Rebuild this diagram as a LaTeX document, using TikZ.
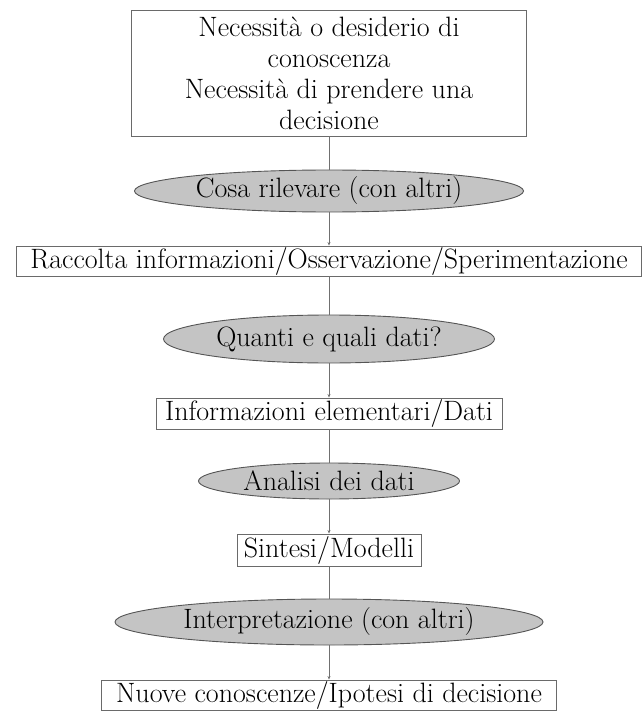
\documentclass[tikz,border=0pt]{standalone}
\usepackage{tikz}
\usetikzlibrary{shapes.geometric}
\usetikzlibrary{arrows.meta}

\definecolor{ovalfill}{HTML}{C4C4C4}
\definecolor{ovalline}{HTML}{555555}
\definecolor{boxline}{HTML}{6A6A6A}
\definecolor{linkline}{HTML}{707070}

\begin{document}
\begin{tikzpicture}[x=1pt,y=-1pt,>={Stealth[length=3.5pt,width=3pt]},
        stepbox/.style={draw=boxline,line width=0.9pt,fill=white,inner sep=0pt,align=center},
        stepoval/.style={ellipse,draw=ovalline,line width=0.9pt,fill=ovalfill,inner sep=0pt},
        link/.style={draw=linkline,line width=0.9pt}]
        \fontsize{28}{31}\selectfont
        % Frame
        \useasboundingbox (0,0) rectangle (642,711);
    
        % Boxes and ovals, top to bottom
        \node[stepbox,minimum width=395,minimum height=126] (need) at (329,73) {Necessità o desiderio di\\conoscenza\\Necessità di prendere una\\decisione}; % Start
        \node[stepoval,minimum width=389,minimum height=42] (cosa) at (329,191) {Cosa rilevare (con altri)};
        \node[stepbox,minimum width=625,minimum height=30] (raccolta) at (329,261) {Raccolta informazioni/Osservazione/Sperimentazione};
        \node[stepoval,minimum width=331,minimum height=48] (quanti) at (329,339) {Quanti e quali dati?};
        \node[stepbox,minimum width=346,minimum height=31] (dati) at (329,413.5) {Informazioni elementari/Dati};
        \node[stepoval,minimum width=261,minimum height=36] (analisi) at (329,481) {Analisi dei dati};
        \node[stepbox,minimum width=184,minimum height=32] (sintesi) at (329,550) {Sintesi/Modelli};
        \node[stepoval,minimum width=428,minimum height=46] (interp) at (329,622) {Interpretazione (con altri)};
        \node[stepbox,minimum width=455,minimum height=30] (nuove) at (329,695) {Nuove conoscenze/Ipotesi di decisione}; % End
    
        % Connectors (box to oval plain, oval to box with a small tip)
        \draw[link] (need) -- (cosa);
        \draw[link,->] (cosa) -- (raccolta);
        \draw[link] (raccolta) -- (quanti);
        \draw[link,->] (quanti) -- (dati);
        \draw[link] (dati) -- (analisi);
        \draw[link,->] (analisi) -- (sintesi);
        \draw[link] (sintesi) -- (interp);
        \draw[link,->] (interp) -- (nuove);
    \end{tikzpicture}
\end{document}
